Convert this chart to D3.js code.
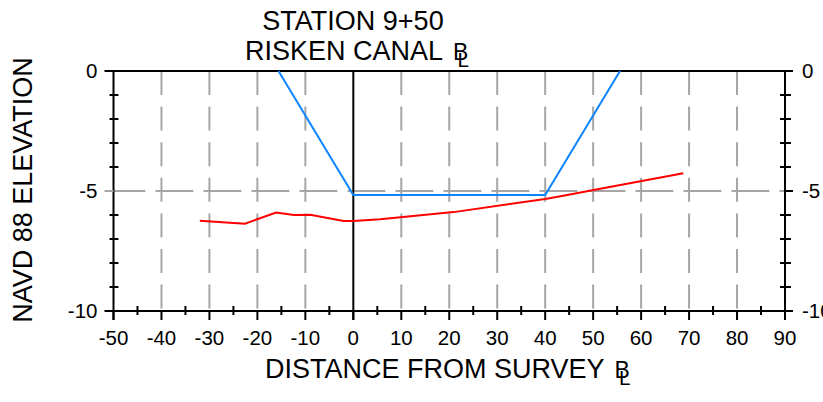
<!DOCTYPE html>
<html><head><meta charset="utf-8">
<script src="https://cdn.jsdelivr.net/npm/d3@7"></script>
<style>
html,body{margin:0;padding:0;background:#fff;}
svg{display:block;font-family:"Liberation Sans",Arial,Helvetica,sans-serif;}
</style></head>
<body>
<svg id="c" width="823" height="402"></svg>
<script>
// ---- data ----
const titleLines = ["STATION 9+50", "RISKEN CANAL"];
const xLabel = "DISTANCE FROM SURVEY";
const yLabel = "NAVD 88 ELEVATION";
const xTicks = [-50,-40,-30,-20,-10,0,10,20,30,40,50,60,70,80,90];
const xMinor = [-45,-35,-25,-15,-5,5,15,25,35,45,55,65,75,85];
const yTicks = [0,-5,-10];
const yMinor = [-1,-2,-3,-4,-6,-7,-8,-9];
const groundX = [-32, -22.6, -16.1, -12.4, -9, -2, 0, 5.6, 20.9, 40, 43.5, 50.1, 68.8];
const groundY = [-6.24, -6.36, -5.9, -6.0, -5.99, -6.25, -6.25, -6.18, -5.88, -5.33, -5.21, -4.96, -4.26];
const designX = [-15.6, 0, 40, 55.6];
const designY = [0, -5.17, -5.17, 0];

// ---- chart ----
const svg = d3.select("#c");
const L = 113.5, R = 785, T = 71, B = 311;
const x = d3.scaleLinear().domain([-50,90]).range([L,R]);
const y = d3.scaleLinear().domain([-10,0]).range([B,T]);
const gray = "#a6a6a6";

// vertical dashed grid
svg.append("g").selectAll("line").data(xTicks.filter(v=>v!==0 && v!==-50 && v!==90)).join("line")
  .attr("x1",d=>x(d)).attr("x2",d=>x(d)).attr("y1",y(0)).attr("y2",y(-10))
  .attr("stroke",gray).attr("stroke-width",2).attr("stroke-dasharray","24,11.6");
// horizontal dashed grid at -5
svg.append("line").attr("x1",x(-50)-8).attr("x2",x(90)+8).attr("y1",y(-5)).attr("y2",y(-5))
  .attr("stroke",gray).attr("stroke-width",2).attr("stroke-dasharray","38,10").attr("stroke-dashoffset",-2);

// zero line
svg.append("line").attr("x1",x(0)).attr("x2",x(0)).attr("y1",y(0)).attr("y2",y(-10)+9)
  .attr("stroke","#000").attr("stroke-width",2);

// axes frame
const ax = svg.append("g").attr("stroke","#000").attr("stroke-width",2);
ax.append("line").attr("x1",L-9).attr("x2",R+8).attr("y1",y(0)).attr("y2",y(0));
ax.append("line").attr("x1",L-9).attr("x2",R+8).attr("y1",y(-10)).attr("y2",y(-10));
ax.append("line").attr("x1",L).attr("x2",L).attr("y1",y(0)).attr("y2",y(-10)+9);
ax.append("line").attr("x1",R).attr("x2",R).attr("y1",y(0)).attr("y2",y(-10)+9);
// y ticks
ax.selectAll(".ym").data(yMinor).join("line").attr("x1",L-4).attr("x2",L+5).attr("y1",d=>y(d)).attr("y2",d=>y(d));
ax.selectAll(".ymr").data(yMinor).join("line").attr("x1",R-5).attr("x2",R+6).attr("y1",d=>y(d)).attr("y2",d=>y(d));
ax.append("line").attr("x1",L-9).attr("x2",L).attr("y1",y(-5)).attr("y2",y(-5)).attr("stroke",gray);
ax.append("line").attr("x1",R).attr("x2",R+8).attr("y1",y(-5)).attr("y2",y(-5));
// x ticks
ax.selectAll(".xm").data(xMinor).join("line").attr("x1",d=>x(d)).attr("x2",d=>x(d)).attr("y1",B-5).attr("y2",B+4);
ax.selectAll(".xM").data(xTicks).join("line").attr("x1",d=>x(d)).attr("x2",d=>x(d)).attr("y1",B).attr("y2",B+9);

// lines
const line = d3.line().x(d=>x(d[0])).y(d=>y(d[1]));
svg.append("path").datum(designX.map((v,i)=>[v,designY[i]])).attr("d",line)
  .attr("fill","none").attr("stroke","#0a84ff").attr("stroke-width",2);
svg.append("path").datum(groundX.map((v,i)=>[v,groundY[i]])).attr("d",line)
  .attr("fill","none").attr("stroke","#ff0000").attr("stroke-width",2);

// tick labels
const fs = 20.5;
svg.append("g").selectAll("text").data(xTicks).join("text")
  .attr("x",d=>x(d)).attr("y",345).attr("text-anchor","middle").attr("font-size",fs).text(d=>d);
svg.append("g").selectAll("text").data(yTicks).join("text")
  .attr("x",L-16).attr("y",d=>y(d)+7).attr("text-anchor","end").attr("font-size",fs).text(d=>d);
svg.append("g").selectAll("text").data(yTicks).join("text")
  .attr("x",R+17).attr("y",d=>y(d)+7).attr("text-anchor","start").attr("font-size",fs).text(d=>d);

// centre-line symbol (B over L) appended as tspans of a title text
function clSymbol(t){
  t.append("tspan").attr("dx",10).attr("font-size",23).text("B");
  t.append("tspan").attr("dx",-11).attr("dy",7.5).attr("font-size",20.5).text("L");
}

// titles
const tf = 27;
svg.append("text").attr("x",353).attr("y",29.5).attr("text-anchor","middle").attr("font-size",tf).text(titleLines[0]);
const t2 = svg.append("text").attr("x",245).attr("y",59.5).attr("font-size",tf);
t2.append("tspan").text(titleLines[1]);
clSymbol(t2);

const xl = svg.append("text").attr("x",265).attr("y",377.5).attr("font-size",tf);
xl.append("tspan").text(xLabel);
clSymbol(xl);

svg.append("text").attr("transform","translate(32,190) rotate(-90)").attr("text-anchor","middle")
  .attr("font-size",27).text(yLabel);
</script>
</body></html>
